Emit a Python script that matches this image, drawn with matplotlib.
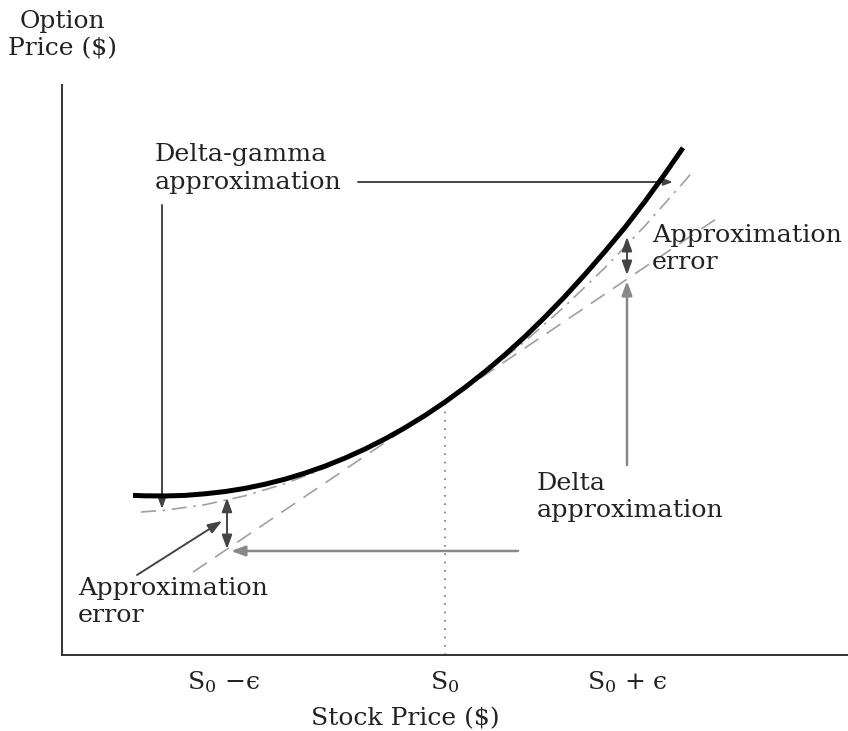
import matplotlib.pyplot as plt

plt.rcParams['font.family'] = 'DejaVu Serif'
plt.rcParams['mathtext.fontset'] = 'dejavuserif'

# option price curve
stock = [22, 25, 30, 35, 40, 45, 50, 55, 60, 65, 70, 75, 80, 85, 90, 95,
         100, 105, 110, 115, 120, 125, 130, 135, 140, 145, 150, 155, 159.5]
option = [39.9, 39.8, 39.76, 39.9, 40.3, 40.86, 41.66, 42.69, 43.96, 45.47,
          47.22, 49.23, 51.49, 54.02, 56.82, 59.89, 63.25, 66.9, 70.84, 75.07,
          79.61, 84.49, 89.66, 95.16, 100.9, 106.9, 113.4, 120.3, 126.8]

# delta-gamma approximation (dash-dot)
dg_stock = [24, 30, 40, 50, 60, 70, 80, 90, 100, 110, 120, 130, 140, 150, 160, 162]
dg_option = [35.75, 36.19, 37.58, 39.8, 42.84, 46.71, 51.4, 56.91, 63.25, 70.41,
             78.4, 87.21, 96.84, 107.3, 118.58, 120.94]

# delta approximation (tangent at S0)
delta_stock = [37, 167.5]
delta_option = [20.72, 108.81]

s0, v0 = 100, 63.25
tick_pos = [44.5, 100, 145.5]
tick_labels = ['S$_0$ \u2212\u03f5', 'S$_0$', 'S$_0$ + \u03f5']

fig = plt.figure(figsize=(8.48, 7.31), dpi=100)
ax = fig.add_axes([62 / 848, 76 / 731, 786 / 848, 570 / 731])
ax.set_xlim(4.25, 200.75)
ax.set_ylim(0, 142.5)

for side in ['top', 'right']:
    ax.spines[side].set_visible(False)
for side in ['left', 'bottom']:
    ax.spines[side].set_color('#333333')
    ax.spines[side].set_linewidth(1.4)

ax.set_yticks([])
ax.set_xticks(tick_pos)
ax.set_xticklabels(tick_labels, fontsize=18, color='#222222')
ax.tick_params(axis='x', length=0, pad=10)

ax.plot(delta_stock, delta_option, color='#a0a0a0', lw=1.2, dashes=(10, 6))
ax.plot(dg_stock, dg_option, color='#a0a0a0', lw=1.2, dashes=(9, 4, 1.5, 4))
ax.plot(stock, option, color='black', lw=3.6, solid_capstyle='butt', zorder=5)
ax.plot([s0, s0], [0, v0], color='#777777', lw=1.2, linestyle=(0, (1, 4)))

arrow = dict(arrowstyle='-|>,head_length=0.6,head_width=0.22', color='#444444',
             lw=1.4, shrinkA=0, shrinkB=0, mutation_scale=14)
small_arrow = dict(arrow, mutation_scale=9)
double = dict(arrowstyle='<|-|>,head_length=0.6,head_width=0.22', color='#444444',
              lw=1.4, shrinkA=0, shrinkB=0, mutation_scale=14)
gray_arrow = dict(arrow, color='#888888', lw=1.8)

txt = dict(fontsize=18.3, va='top', ha='left', linespacing=1.25, color='#222222')

# delta-gamma label and pointers
ax.annotate('', xy=(29.25, 36.5), xytext=(29.25, 112.5), arrowprops=small_arrow)
ax.annotate('', xy=(157, 118.25), xytext=(78.25, 118.25), arrowprops=small_arrow)
ax.text(27.5, 128, 'Delta-gamma\napproximation', **txt)

# left approximation error
ax.annotate('', xy=(45.5, 26.5), xytext=(45.5, 39.3), arrowprops=double)
ax.annotate('', xy=(44.25, 33.5), xytext=(23, 20), arrowprops=arrow)
ax.annotate('', xy=(46.5, 26), xytext=(118.25, 26), arrowprops=gray_arrow)
ax.text(8.25, 19.5, 'Approximation\nerror', **txt)

# right approximation error and delta approximation
ax.annotate('', xy=(145.5, 95), xytext=(145.5, 104.5), arrowprops=double)
ax.annotate('', xy=(145.5, 93.5), xytext=(145.5, 47.5), arrowprops=gray_arrow)
ax.text(151.75, 107.8, 'Approximation\nerror', **txt)
ax.text(123, 45.8, 'Delta\napproximation', **txt)

fig.text(62 / 848, 1 - 10 / 731, 'Option\nPrice ($)', fontsize=18, ha='center',
         va='top', linespacing=1.25, color='#222222')
fig.text(405 / 848, 1 / 731, 'Stock Price ($)', fontsize=18, ha='center',
         va='bottom', color='#222222')

fig.savefig('out.png', dpi=100)
